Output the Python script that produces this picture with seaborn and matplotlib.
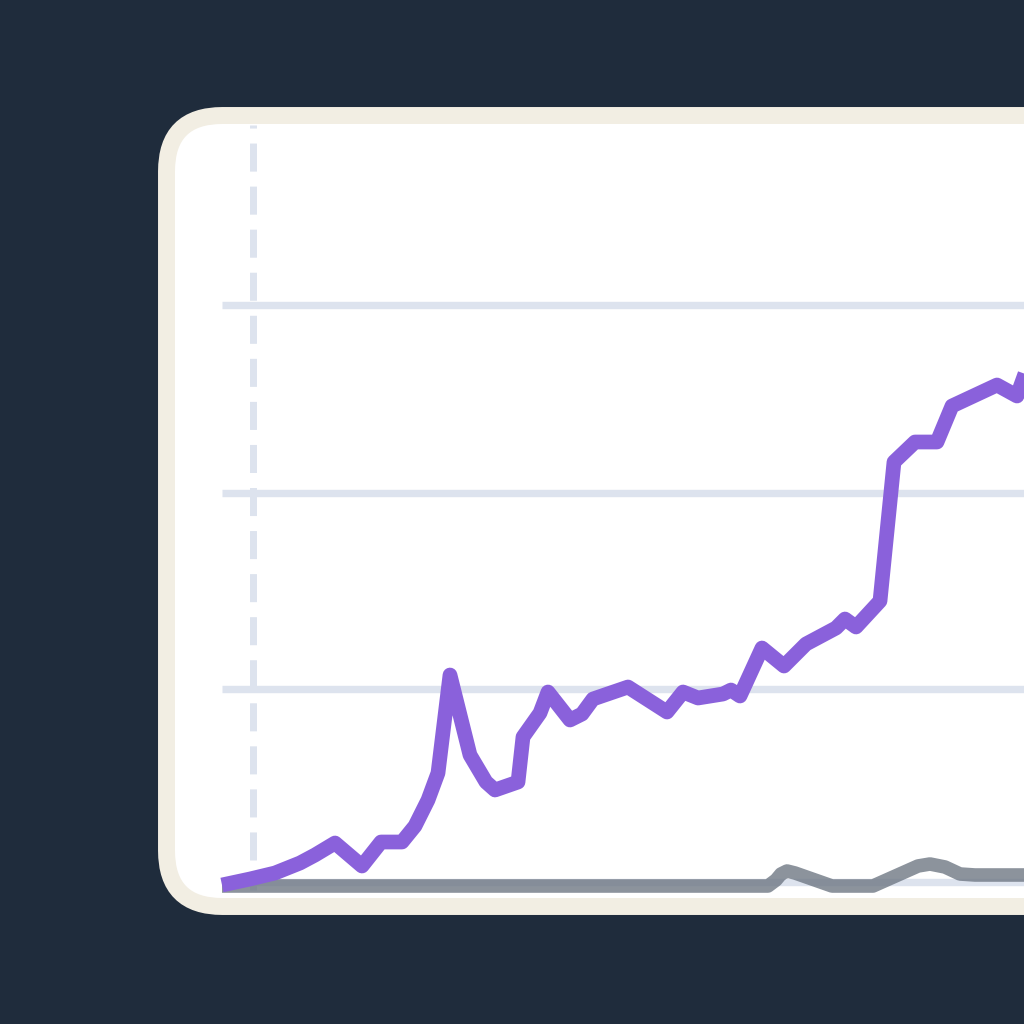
import pandas as pd
import matplotlib
matplotlib.use("Agg")
import matplotlib.pyplot as plt
from matplotlib.patches import FancyBboxPatch
import seaborn as sns

# values (x in time units, y in value units)
purple_x = [0, 2.8, 5.3, 7.8, 9.3, 11.3, 14.0, 15.9, 18.0, 19.3, 20.6, 21.6, 22.8,
            24.8, 26.4, 27.3, 29.6, 30.1, 31.8, 32.6, 34.8, 36.0, 37.1, 40.6, 44.5,
            46.1, 47.6, 50.1, 50.9, 51.8, 54.0, 56.2, 58.4, 61.4, 62.3, 63.4, 65.8,
            67.2, 69.3, 71.5, 73.0, 77.5, 79.5, 80.8, 82.3]
purple_y = [0, 0.6, 1.2, 2.2, 3.0, 4.2, 1.9, 4.3, 4.3, 5.9, 8.5, 11.2, 21.0,
            13.0, 10.3, 9.5, 10.3, 14.8, 17.2, 19.3, 16.5, 17.1, 18.6, 19.8, 17.3,
            19.3, 18.7, 19.1, 19.5, 18.9, 23.7, 21.9, 24.1, 25.7, 26.6, 25.8, 28.4,
            42.3, 44.3, 44.3, 47.9, 50.0, 48.9, 52.5, 55.5]

gray_x = [0, 54.6, 55.4, 55.9, 56.5, 57.3, 61.0, 65.1, 67.8, 69.6, 70.8, 72.3,
          73.8, 75.3, 81.8]
gray_y = [-0.1, -0.1, 0.5, 1.1, 1.4, 1.2, -0.1, -0.1, 1.1, 1.9, 2.1, 1.8,
          1.1, 1.0, 1.0]

grid_y = [0.3, 19.6, 39.2, 58.0]
marker_x = 3.1

BG = "#1f2c3c"
CREAM = "#f2eee3"
GRID = "#dde3ee"
PURPLE = "#8a61db"
GRAY = "#6f7884"

sns.set_theme(style="white")
plt.rcParams["lines.scale_dashes"] = False

fig = plt.figure(figsize=(10.24, 10.24), dpi=100, facecolor=BG)

# panel with cream border, drawn in pixel coords
bg = fig.add_axes([0, 0, 1, 1])
bg.set_xlim(0, 1024)
bg.set_ylim(1024, 0)
bg.axis("off")
bg.set_facecolor(BG)
panel = FancyBboxPatch((166.5, 115.5), 1200, 791,
                       boxstyle="round,pad=0,rounding_size=56",
                       facecolor="white", edgecolor=CREAM, linewidth=12.2)
bg.add_patch(panel)

ax = fig.add_axes([175 / 1024, 126 / 1024, 849 / 1024, 773 / 1024])
ax.set_facecolor("none")
ax.set_xlim(-4.7, 80.2)
ax.set_ylim(-1.3, 76.0)
ax.axis("off")

ax.hlines(grid_y, 0, 100, colors=GRID, linewidth=5.3, capstyle="butt", zorder=1)
ax.plot([marker_x, marker_x], [76.0, -0.5], color=GRID, linewidth=5.0,
        linestyle=(18, (20.2, 10.8)), dash_capstyle="butt", zorder=1)

gray_df = pd.DataFrame({"x": gray_x, "y": gray_y})
purple_df = pd.DataFrame({"x": purple_x, "y": purple_y})

sns.lineplot(data=gray_df, x="x", y="y", ax=ax, sort=False, estimator=None,
             color=GRAY, alpha=0.8, zorder=2)
ax.lines[-1].set_linewidth(9.8)
ax.lines[-1].set_solid_joinstyle("round")
ax.lines[-1].set_solid_capstyle("butt")

sns.lineplot(data=purple_df, x="x", y="y", ax=ax, sort=False, estimator=None,
             color=PURPLE, zorder=3)
ax.lines[-1].set_linewidth(10.6)
ax.lines[-1].set_solid_joinstyle("round")
ax.lines[-1].set_solid_capstyle("butt")
ax.axis("off")

fig.savefig("out.png", dpi=100, facecolor=BG)
